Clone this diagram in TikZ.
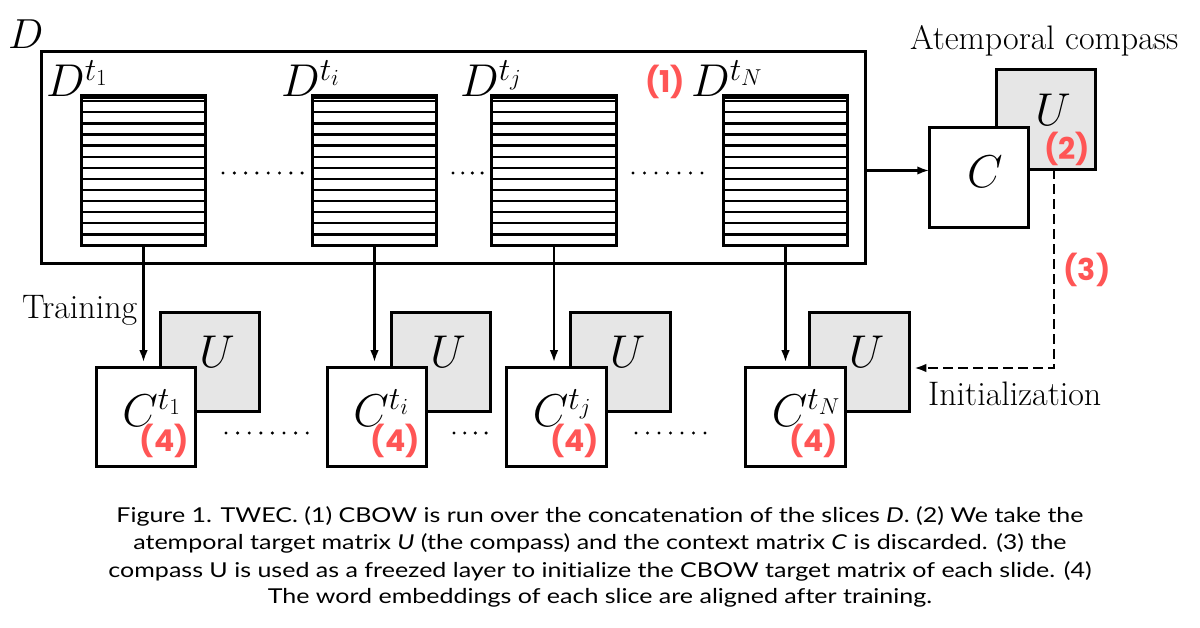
\RequirePackage{fix-cm}
\documentclass[tikz,border=0pt]{standalone}
\usepackage{fontspec}
\newfontfamily\capfont{Lato}[FakeStretch=1.22, Ligatures=NoCommon]
\newfontfamily\redfont{Poppins}
\usetikzlibrary{arrows.meta}
\definecolor{lab}{RGB}{255,85,85}
\definecolor{ugray}{RGB}{230,230,230}
\begin{document}
\begin{tikzpicture}[x=1pt,y=-1pt,
  box/.style={draw, line width=2.7pt, minimum width=99.5pt, minimum height=99.5pt, inner sep=0pt, outer sep=0pt, fill=white},
  ubox/.style={box, fill=ugray},
  sbox/.style={draw, line width=2.7pt, minimum width=124.5pt, minimum height=150.5pt, inner sep=0pt, outer sep=0pt},
  stripe/.style={line width=2.3pt},
  mathlab/.style={inner sep=0pt, font=\fontsize{46}{50}\selectfont},
  redlab/.style={inner sep=0pt, text=lab, font=\redfont\bfseries\fontsize{30}{32}\selectfont},
  txt/.style={inner sep=0pt, font=\fontsize{34}{38}\selectfont},
  captext/.style={inner sep=0pt, anchor=base, font=\capfont\fontsize{20.5}{24}\selectfont},
  arr/.style={line width=2.2pt, -{Latex[length=12pt,width=8.5pt]}},
  dot/.style={fill=black},
]
\fill[white] (0,0) rectangle (1200,628);
\useasboundingbox (0,0) rectangle (1200,628);

% big container
\node[draw, line width=2.8pt, minimum width=824pt, minimum height=212pt, inner sep=0pt, outer sep=0pt] (big) at (453.5,157.5) {};
\node[mathlab, font=\fontsize{42}{46}\selectfont, anchor=base west] (lD) at (8,49) {$D$};

% striped slices
\node[sbox] (s1) at (143.5,170.5) {};
\node[sbox] (si) at (374.5,170.5) {};
\node[sbox] (sj) at (554,170.5) {};
\node[sbox] (sN) at (785.5,170.5) {};
\foreach \s in {s1,si,sj,sN}{
  \draw[stripe] ([yshift=-3pt]\s.north west) -- ([yshift=-3pt]\s.north east);
  \foreach \k in {0,...,13}
    \draw[stripe] ([yshift={-6-11.1*\k}]\s.north west) -- ([yshift={-6-11.1*\k}]\s.north east);
}
\node[mathlab, anchor=base west] (l1) at (46,97) {$D^{t_1}$};
\node[mathlab, anchor=base west] (li) at (281,97) {$D^{t_i}$};
\node[mathlab, anchor=base west] (lj) at (460,97) {$D^{t_j}$};
\node[mathlab, anchor=base west] (lN) at (691,97) {$D^{t_N}$};
\node[redlab] (n1) at (665,82) {(1)};

% top dots
\foreach \i in {0,...,7} \fill[dot] ({223+\i*11.3},173) circle (1.7pt);
\foreach \i in {0,...,3} \fill[dot] ({453+\i*9.7},173) circle (1.7pt);
\foreach \i in {0,...,6} \fill[dot] ({633+\i*11.5},173) circle (1.7pt);

% compass
\node[txt, anchor=base west] (atc) at (910,50) {Atemporal compass};
\node[ubox] (cU) at (1046,119.5) {};
\node[box] (cC) at (979,177.5) {};
\node[mathlab] (lC) at (985,172) {$C$};
\node[mathlab] (lU) at (1053,110) {$U$};
\node[redlab] (n2) at (1067,149) {(2)};
\node[redlab] (n3) at (1087,270) {(3)};
\draw[arr] (big.east |- s1.east) -- (cC.west |- s1.east);

% bottom matrices
\foreach \n/\x in {1/146, i/377, j/556.5, N/795.5}{
  \node[ubox] (u\n) at ({\x+64},362) {};
  \node[box] (c\n) at (\x,417) {};
}
\foreach \n in {1,i,j,N}{
  \node[mathlab, anchor=base west] (cl\n) at ([xshift=26pt,yshift=-59pt]c\n.north west) {$C^{t_\n}$};
  \node[redlab] (r\n) at ([xshift=68pt,yshift=-74pt]c\n.north west) {(4)};
  \node[mathlab] (ul\n) at ([xshift=7pt,yshift=10pt]u\n.center) {$U$};
}
\foreach \s/\c in {s1/c1, si/ci, sj/cj, sN/cN}
  \draw[arr] (\s.south) -- ([yshift=5pt]\s.south |- \c.north);

% bottom dots
\foreach \i in {0,...,7} \fill[dot] ({226+\i*11.6},433) circle (1.7pt);
\foreach \i in {0,...,3} \fill[dot] ({454+\i*10.7},433) circle (1.7pt);
\foreach \i in {0,...,6} \fill[dot] ({636+\i*11.5},433) circle (1.7pt);

\node[txt, anchor=base west] (trn) at (22,319) {Training};
\node[txt, anchor=base west] (ini) at (928,406) {Initialization};
\draw[line width=2.5pt, dash pattern=on 10pt off 5pt, -{Latex[length=12pt,width=8.5pt]}]
  ([xshift=8pt]cU.south) |- ([xshift=5pt,yshift=-6pt]uN.east);

% caption
\node[captext] (cap1) at (600,522) {Figure 1. TWEC. (1) CBOW is run over the concatenation of the slices \textit{D}. (2) We take the};
\node[captext] (cap2) at (600,549) {atemporal target matrix \textit{U} (the compass) and the context matrix \textit{C} is discarded. (3) the};
\node[captext] (cap3) at (600,577) {compass U is used as a freezed layer to initialize the CBOW target matrix of each slide. (4)};
\node[captext] (cap4) at (600,603) {The word embeddings of each slice are aligned after training.};
\end{tikzpicture}
\end{document}
